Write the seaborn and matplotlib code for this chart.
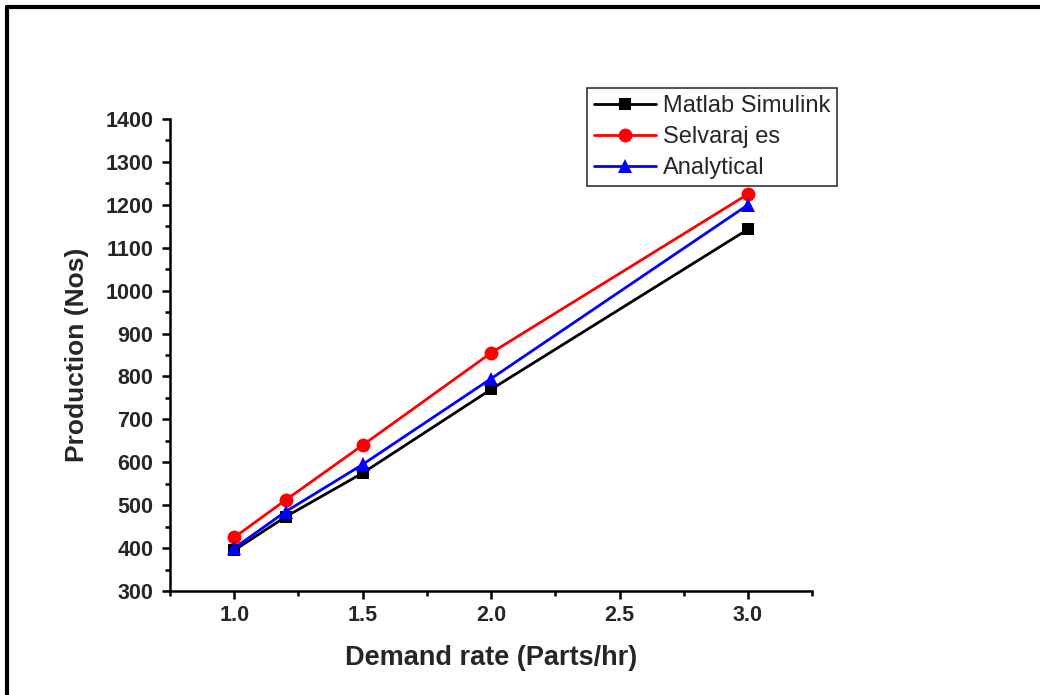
import numpy as np
import pandas as pd
import matplotlib
matplotlib.use("Agg")
import matplotlib.pyplot as plt
from matplotlib.lines import Line2D
from matplotlib.ticker import MultipleLocator
import seaborn as sns

# Demand rates (parts/hr) and production counts per method
demand_rate = [1.0, 1.2, 1.5, 2.0, 3.0]
matlab_simulink = [395, 473, 575, 770, 1143]
selvaraj_es = [425, 512, 640, 855, 1225]
analytical = [400, 485, 595, 795, 1200]

series_names = ["Matlab Simulink", "Selvaraj es", "Analytical"]
series_values = [matlab_simulink, selvaraj_es, analytical]
series_colors = ["black", "red", "blue"]
series_markers = ["s", "o", "^"]
marker_sizes = [8.5, 10, 10]

sns.set_theme(style="white")
plt.rcParams["font.family"] = ["Liberation Sans", "DejaVu Sans"]

df = pd.DataFrame({
    "rate": demand_rate * len(series_names),
    "production": sum(series_values, []),
    "method": np.repeat(series_names, len(demand_rate)),
})

fig = plt.figure(figsize=(10.4, 6.95), dpi=100)
ax = fig.add_axes([0.1635, 0.1496, 0.6175, 0.6792])

for name, color, marker, ms in zip(series_names, series_colors, series_markers, marker_sizes):
    sub = df[df["method"] == name]
    sns.lineplot(data=sub, x="rate", y="production", ax=ax, color=color,
                 marker=marker, markersize=ms, markeredgewidth=0,
                 linewidth=2.0, label=name)

ax.set_xlim(0.75, 3.25)
ax.set_ylim(300, 1400)
ax.xaxis.set_major_locator(MultipleLocator(0.5))
ax.xaxis.set_minor_locator(MultipleLocator(0.25))
ax.yaxis.set_major_locator(MultipleLocator(100))
ax.yaxis.set_minor_locator(MultipleLocator(50))
ax.set_xticks([1.0, 1.5, 2.0, 2.5, 3.0])
ax.set_xticklabels(["1.0", "1.5", "2.0", "2.5", "3.0"])

for side in ["top", "right"]:
    ax.spines[side].set_visible(False)
for side in ["left", "bottom"]:
    ax.spines[side].set_color("black")
    ax.spines[side].set_linewidth(1.8)

ax.tick_params(which="major", direction="out", length=6, width=1.8,
               color="black", labelsize=15.5, left=True, bottom=True)
ax.tick_params(axis="x", which="major", pad=4)
ax.tick_params(axis="y", which="major", pad=6)
ax.tick_params(which="minor", direction="out", length=3.5, width=1.8,
               color="black", left=True, bottom=True)
for lbl in ax.get_xticklabels() + ax.get_yticklabels():
    lbl.set_fontweight("bold")

ax.set_xlabel("Demand rate (Parts/hr)", fontsize=19.5, fontweight="bold", labelpad=14)
ax.set_ylabel("Production (Nos)", fontsize=19, fontweight="bold", labelpad=12)

leg = ax.legend(loc="upper left", bbox_to_anchor=(0.6495, 1.0657), fontsize=17,
                frameon=True, fancybox=False, edgecolor="black",
                handlelength=2.6, borderpad=0.3, labelspacing=0.38,
                handletextpad=0.3, borderaxespad=0)
leg.get_frame().set_linewidth(1.2)

# Outer frame along the top and left edges of the figure
fig.add_artist(Line2D([0.0065, 1.0], [0.9895, 0.9895], transform=fig.transFigure,
                      color="black", linewidth=3))
fig.add_artist(Line2D([0.0065, 0.0065], [0.0, 0.9895], transform=fig.transFigure,
                      color="black", linewidth=3))

fig.savefig("out.png", dpi=100, facecolor="white")
